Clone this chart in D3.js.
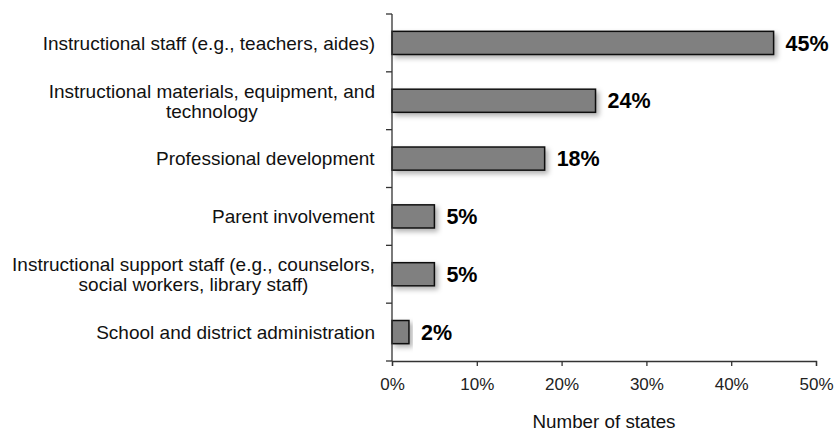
<!DOCTYPE html>
<html>
<head>
<meta charset="utf-8">
<script src="https://cdn.jsdelivr.net/npm/d3@7"></script>
<style>
  body { margin: 0; background: #fff; }
  text { font-family: "Liberation Sans", Arial, sans-serif; }
</style>
</head>
<body>
<svg id="chart"></svg>
<script>
// data
var categories = [
  ["Instructional staff (e.g., teachers, aides)"],
  ["Instructional materials, equipment, and", "technology"],
  ["Professional development"],
  ["Parent involvement"],
  ["Instructional support staff (e.g., counselors,", "social workers, library staff)"],
  ["School and district administration"]
];
var values = [45, 24, 18, 5, 5, 2];
var xTicks = [0, 10, 20, 30, 40, 50];

var svgWidth = 835, svgHeight = 434;
var margin = { top: 14, right: 19, bottom: 73, left: 392 };
var width = svgWidth - margin.left - margin.right;
var height = svgHeight - margin.top - margin.bottom;

var svg = d3.select("#chart")
  .attr("width", svgWidth)
  .attr("height", svgHeight);

var defs = svg.append("defs");
var f = defs.append("filter").attr("id", "shadow")
  .attr("x", "-10%").attr("y", "-30%").attr("width", "130%").attr("height", "180%");
f.append("feDropShadow")
  .attr("dx", 3).attr("dy", 3).attr("stdDeviation", 2.5)
  .attr("flood-color", "#000").attr("flood-opacity", 0.3);

var g = svg.append("g")
  .attr("transform", "translate(" + margin.left + "," + margin.top + ")");

var x = d3.scaleLinear().domain([0, 50]).range([0, width]);
var idx = d3.range(categories.length);
var y = d3.scaleBand().domain(idx).range([0, height]).paddingInner(0.6).paddingOuter(0.3);
var yb = d3.scaleBand().domain(idx).range([0, height]);

// bars
g.selectAll(".bar")
  .data(values)
  .enter().append("rect")
  .attr("class", "bar")
  .attr("x", 0)
  .attr("y", function(d, i) { return y(i); })
  .attr("width", function(d) { return x(d); })
  .attr("height", y.bandwidth())
  .attr("fill", "#808080")
  .attr("stroke", "#111")
  .attr("stroke-width", 1.5)
  .attr("filter", "url(#shadow)");

// value labels
g.selectAll(".val")
  .data(values)
  .enter().append("text")
  .attr("class", "val")
  .attr("x", function(d) { return x(d) + 12; })
  .attr("y", function(d, i) { return y(i) + y.bandwidth() / 2; })
  .attr("dy", "0.36em")
  .attr("font-size", 21.5)
  .attr("font-weight", "bold")
  .attr("fill", "#000")
  .text(function(d) { return d + "%"; });

// x axis
var xAxis = g.append("g")
  .attr("transform", "translate(0," + height + ")")
  .call(d3.axisBottom(x).tickValues(xTicks).tickSize(5).tickPadding(12)
    .tickFormat(function(d) { return d + "%"; }).tickSizeOuter(5));
xAxis.selectAll("text").attr("font-size", 17).attr("fill", "#222")
  .style("font-family", "'Liberation Sans', Arial, sans-serif");
xAxis.selectAll("line, path").attr("stroke", "#333").attr("stroke-width", 1.3);

// y axis: ticks at band boundaries
var yAxisG = g.append("g");
yAxisG.append("line")
  .attr("x1", 0).attr("x2", 0).attr("y1", 0).attr("y2", height)
  .attr("stroke", "#333").attr("stroke-width", 1.3);
yAxisG.selectAll(".ytick")
  .data(d3.range(categories.length + 1))
  .enter().append("line")
  .attr("x1", -6).attr("x2", 0)
  .attr("y1", function(d) { return d < categories.length ? yb(d) : height; })
  .attr("y2", function(d) { return d < categories.length ? yb(d) : height; })
  .attr("stroke", "#333").attr("stroke-width", 1.3);

// category labels: block right-aligned, lines centred within block
var lab = g.selectAll(".cat")
  .data(categories)
  .enter().append("text")
  .attr("class", "cat")
  .attr("text-anchor", "middle")
  .attr("font-size", 19)
  .attr("fill", "#111")
  .attr("transform", function(d, i) {
    return "translate(-17," + (yb(i) + yb.bandwidth() / 2) + ")";
  });
lab.selectAll("tspan")
  .data(function(d) { return d; })
  .enter().append("tspan")
  .attr("x", 0)
  .attr("y", function(d, j, nodes) {
    var n = nodes.length;
    return (j - (n - 1) / 2) * 20;
  })
  .attr("dy", "0.36em")
  .text(function(d) { return d; });
lab.each(function() {
  var t = d3.select(this);
  var w = this.getBBox().width;
  t.selectAll("tspan").attr("x", -w / 2);
});

// axis title
g.append("text")
  .attr("x", width / 2)
  .attr("y", height + 67)
  .attr("text-anchor", "middle")
  .attr("font-size", 18.8)
  .attr("fill", "#111")
  .text("Number of states");
</script>
</body>
</html>
